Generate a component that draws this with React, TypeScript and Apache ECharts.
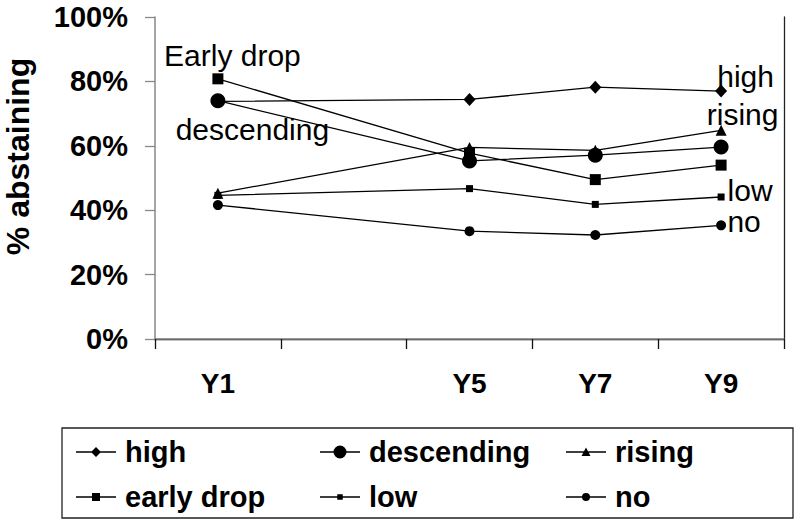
import React, { useEffect, useRef } from "react";
import * as echarts from "echarts";

const categories = ["Y1", "", "Y5", "Y7", "Y9"];
const seriesNames = ["high", "descending", "rising", "early drop", "low", "no"];
const high = [73.8, null, 74.4, 78.2, 77.0];
const descending = [74.0, null, 55.3, 57.1, 59.6];
const rising = [45.3, null, 59.5, 58.6, 64.8];
const earlyDrop = [80.8, null, 57.7, 49.5, 54.0];
const low = [44.6, null, 46.7, 41.8, 44.1];
const no = [41.6, null, 33.5, 32.3, 35.3];
const yTicks = [0, 20, 40, 60, 80, 100];

// annotation texts attached to data points: [series, category index, text, dx, dy]
const annotations: [string, number, string, number, number][] = [
  ["early drop", 0, "Early drop", 14.5, -23],
  ["descending", 0, "descending", 34.5, 28.5],
  ["high", 4, "high", 24.5, -15],
  ["rising", 4, "rising", 21.5, -15.5],
  ["low", 4, "low", 29, -6.5],
  ["no", 4, "no", 23, -4],
];

const FONT = "'Liberation Sans', Arial, sans-serif";

const base = "M0,0L0,0M44,14L44,14M0,6.3H40V7.7H0Z";
const icons: Record<string, string> = {
  high: base + "M20,2L25,7L20,12L15,7Z",
  descending: base + "M26.5,7A6.5,6.5 0 1 1 13.5,7A6.5,6.5 0 1 1 26.5,7Z",
  rising: base + "M20,2.5L24.5,11L15.5,11Z",
  "early drop": base + "M16,3H24V11H16Z",
  low: base + "M17.25,4.25H22.75V9.75H17.25Z",
  no: base + "M24,7A4,4 0 1 1 16,7A4,4 0 1 1 24,7Z",
};

const symbols: Record<string, [string, number | number[]]> = {
  high: ["diamond", [12, 13]],
  descending: ["circle", 15],
  rising: ["triangle", 11],
  "early drop": ["rect", 11],
  low: ["rect", 7],
  no: ["circle", 10],
};

const values: Record<string, (number | null)[]> = {
  high,
  descending,
  rising,
  "early drop": earlyDrop,
  low,
  no,
};

export default function App() {
  const ref = useRef<HTMLDivElement>(null);
  useEffect(() => {
    if (!ref.current) return;
    const chart = echarts.init(ref.current, undefined, { renderer: "svg" });

    const series = seriesNames.map((name) => {
      const data = values[name].map((v, i) => {
        const ann = annotations.find((a) => a[0] === name && a[1] === i);
        if (ann && v !== null) {
          return {
            value: v,
            label: {
              show: true,
              formatter: ann[2],
              position: "inside",
              offset: [ann[3], ann[4]],
              fontSize: 30,
              fontFamily: FONT,
              color: "#000",
              align: "center",
              verticalAlign: "middle",
            },
          };
        }
        return v;
      });
      return {
        name,
        type: "line",
        data,
        connectNulls: true,
        symbol: symbols[name][0],
        symbolSize: symbols[name][1],
        showAllSymbol: true,
        lineStyle: { color: "#000", width: 1.3 },
        itemStyle: { color: "#000", borderWidth: 0 },
        label: { show: false },
        emphasis: { disabled: true },
        z: 3,
      };
    });

    const legendCommon = {
      orient: "vertical",
      top: 437.5,
      itemWidth: 44,
      itemHeight: 14,
      itemGap: 16,
      padding: 0,
      selectedMode: false,
      itemStyle: { borderWidth: 0, color: "#000" },
      textStyle: { fontSize: 29, fontWeight: "bold", fontFamily: FONT, color: "#000" },
    };
    const legendCols = [
      ["high", "early drop"],
      ["descending", "low"],
      ["rising", "no"],
    ];
    const legendLefts = [76, 320, 566];

    chart.setOption({
      animation: false,
      backgroundColor: "#fff",
      grid: {
        left: 155,
        right: 16,
        top: 17,
        bottom: 185,
        containLabel: false,
        outerBoundsMode: "none",
      },
      xAxis: [
        {
          type: "category",
          data: categories,
          boundaryGap: true,
          position: "bottom",
          axisLine: { lineStyle: { color: "#111", width: 1.3 } },
          axisTick: { show: true, length: 10, interval: 0, lineStyle: { color: "#111", width: 1.3 } },
          axisLabel: { interval: 0, margin: 30, fontSize: 28, fontWeight: "bold", fontFamily: FONT, color: "#000" },
          splitLine: { show: false },
        },
        {
          type: "category",
          data: categories,
          position: "top",
          axisLine: { show: true, lineStyle: { color: "#888", width: 1.5 } },
          axisTick: { show: false },
          axisLabel: { show: false },
          splitLine: { show: false },
        },
      ],
      yAxis: [
        {
          type: "value",
          min: yTicks[0],
          max: yTicks[yTicks.length - 1],
          interval: 20,
          position: "left",
          name: "% abstaining",
          nameLocation: "middle",
          nameRotate: 90,
          nameGap: 121,
          nameTextStyle: {
            fontSize: 32,
            fontWeight: "bold",
            fontFamily: FONT,
            color: "#000",
            padding: [0, 0, 0, 43],
          },
          axisLine: { show: true, lineStyle: { color: "#888", width: 1.5 } },
          axisTick: { show: true, length: 10, lineStyle: { color: "#888", width: 1.3 } },
          axisLabel: { margin: 27, fontSize: 29, fontWeight: "bold", fontFamily: FONT, color: "#000", formatter: "{value}%" },
          splitLine: { show: false },
        },
        {
          type: "value",
          min: 0,
          max: 100,
          position: "right",
          axisLine: { show: true, lineStyle: { color: "#222", width: 1.3 } },
          axisTick: { show: false },
          axisLabel: { show: false },
          splitLine: { show: false },
        },
      ],
      legend: legendCols.map((col, i) => ({
        ...legendCommon,
        left: legendLefts[i],
        data: col.map((n) => ({ name: n, icon: "path://" + icons[n] })),
      })),
      graphic: [
        {
          type: "rect",
          shape: { x: 62, y: 428, width: 731, height: 90 },
          style: { fill: "none", stroke: "#222", lineWidth: 1.3 },
          silent: true,
        },
      ],
      series,
    });
    return () => chart.dispose();
  }, []);
  return (
    <div
      ref={ref}
      style={{ position: "fixed", left: 0, top: 0, width: 800, height: 524, background: "#fff" }}
    />
  );
}
